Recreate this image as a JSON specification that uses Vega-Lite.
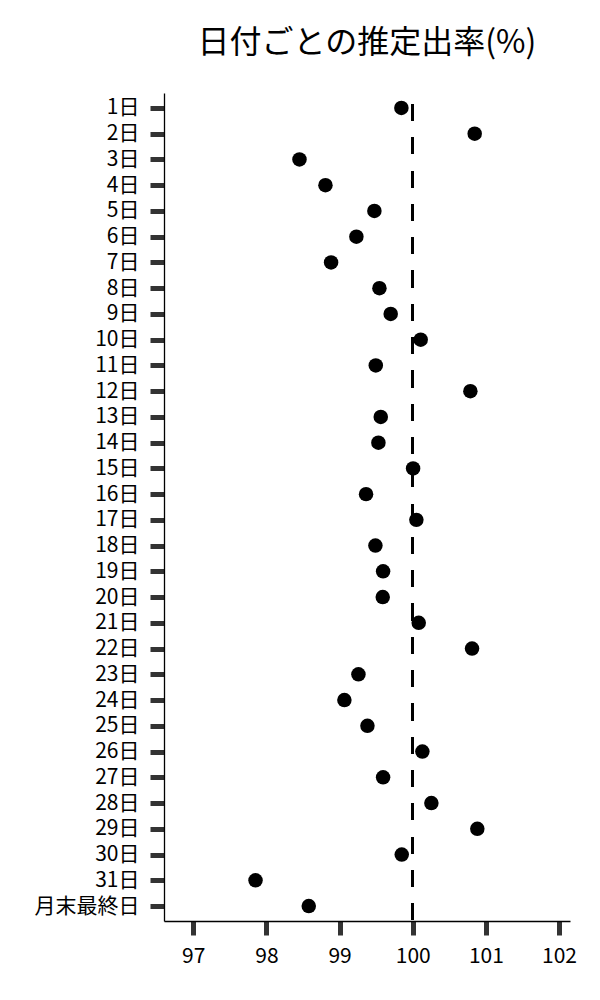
{
  "$schema": "https://vega.github.io/schema/vega-lite/v6.json",
  "autosize": "none",
  "padding": {"left": 164, "top": 93, "right": 30, "bottom": 79},
  "width": 406,
  "height": 828,
  "background": "white",
  "config": {
    "font": "Noto Sans CJK JP",
    "view": {"stroke": null},
    "axis": {
      "grid": false,
      "domainColor": "black",
      "domainWidth": 1.3,
      "tickColor": "#333333",
      "tickWidth": 5,
      "tickSize": 14,
      "labelFont": "Noto Sans CJK JP",
      "labelFontSize": 21,
      "labelColor": "black",
      "title": null
    }
  },
  "title": {
    "text": "日付ごとの推定出率(%)",
    "font": "Noto Sans CJK JP",
    "fontSize": 32,
    "fontWeight": "normal",
    "color": "black",
    "anchor": "middle",
    "offset": 32
  },
  "data": {
    "values": [
      {"day": "1日", "rate": 99.845},
      {"day": "2日", "rate": 100.847},
      {"day": "3日", "rate": 98.452},
      {"day": "4日", "rate": 98.807},
      {"day": "5日", "rate": 99.476},
      {"day": "6日", "rate": 99.23},
      {"day": "7日", "rate": 98.884},
      {"day": "8日", "rate": 99.545},
      {"day": "9日", "rate": 99.699},
      {"day": "10日", "rate": 100.109},
      {"day": "11日", "rate": 99.495},
      {"day": "12日", "rate": 100.788},
      {"day": "13日", "rate": 99.563},
      {"day": "14日", "rate": 99.531},
      {"day": "15日", "rate": 100.005},
      {"day": "16日", "rate": 99.362},
      {"day": "17日", "rate": 100.05},
      {"day": "18日", "rate": 99.49},
      {"day": "19日", "rate": 99.595},
      {"day": "20日", "rate": 99.59},
      {"day": "21日", "rate": 100.082},
      {"day": "22日", "rate": 100.811},
      {"day": "23日", "rate": 99.258},
      {"day": "24日", "rate": 99.066},
      {"day": "25日", "rate": 99.381},
      {"day": "26日", "rate": 100.132},
      {"day": "27日", "rate": 99.595},
      {"day": "28日", "rate": 100.255},
      {"day": "29日", "rate": 100.883},
      {"day": "30日", "rate": 99.85},
      {"day": "31日", "rate": 97.851},
      {"day": "月末最終日", "rate": 98.579}
    ]
  },
  "layer": [
    {
      "mark": {"type": "rule", "color": "black", "strokeWidth": 2.5, "strokeDash": [16.5, 16.8], "strokeDashOffset": 22},
      "encoding": {
        "x": {"datum": 100, "type": "quantitative"}
      }
    },
    {
      "mark": {"type": "circle", "color": "black", "opacity": 1, "size": 210},
      "encoding": {
        "x": {
          "field": "rate",
          "type": "quantitative",
          "scale": {"domain": [96.6, 102.15], "nice": false, "zero": false},
          "axis": {"values": [97, 98, 99, 100, 101, 102], "format": "d", "labelPadding": 10}
        },
        "y": {
          "field": "day",
          "type": "nominal",
          "sort": null,
          "scale": {"type": "point", "padding": 0.58},
          "axis": {"labelPadding": 11}
        }
      }
    }
  ]
}
